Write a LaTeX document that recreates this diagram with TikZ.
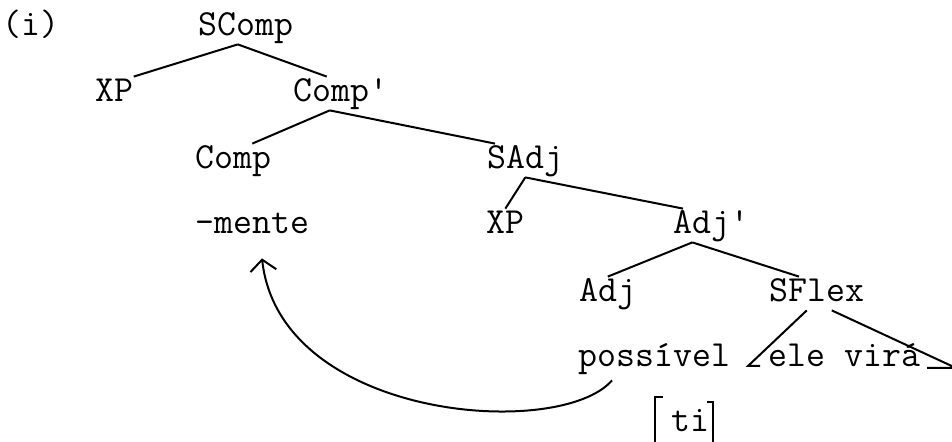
\documentclass[tikz,border=0pt]{standalone}
\usepackage{fontspec}
\usetikzlibrary{arrows.meta}
\usetikzlibrary{calc}

\tikzset{
    cat/.style={font=\ttfamily\fontsize{18.4}{22}\selectfont, inner sep=0pt, anchor=base west,
                text height=12.5pt, text depth=4pt},
    branch/.style={line width=1pt},
    move/.style={line width=1pt, -{Straight Barb[length=5.5pt,width=13pt]}}
}

\begin{document}
\begin{tikzpicture}[x=0.5pt,y=-0.5pt]

                    \useasboundingbox (0,0) rectangle (952,442);

                    \node[cat] (ex)       at (2,36)    {(i)};
                    \node[cat] (SComp)    at (198,36)  {SComp};
                    \node[cat] (XPa)      at (95,102)  {XP};
                    \node[cat] (Compbar)  at (293,102) {Comp\textquotesingle};
                    \node[cat] (Comp)     at (195,169) {Comp};
                    \node[cat] (SAdj)     at (487,169) {SAdj};
                    \node[cat] (mente)    at (195,234) {-mente};
                    \node[cat] (XPb)      at (486,234) {XP};
                    \node[cat] (Adjbar)   at (673,234) {Adj\textquotesingle};
                    \node[cat] (Adj)      at (579,302) {Adj};
                    \node[cat] (SFlex)    at (769,302) {SFlex};
                    \node[cat] (possivel) at (578,367) {possível};
                    \node[cat] (elevira)  at (768,367) {ele virá};
                    \node[cat] (ti)       at (671,432) {ti};

                    \coordinate (tl) at (748,366);
                    \coordinate (tr) at (956,368);

                    \path[branch]
                    ([xshift=-4pt]SComp.south) edge (XPa.north east)
                    ([xshift=-4pt]SComp.south) edge ([xshift=-7pt]Compbar.north)
                    ([xshift=-5.5pt]Compbar.south) edge ([xshift=9.5pt]Comp.north)
                    ([xshift=-5.5pt]Compbar.south) edge ([xshift=4pt]SAdj.north west)
                    (SAdj.south) edge (XPb.north)
                    (SAdj.south) edge ([xshift=5pt]Adjbar.north west)
                    ([xshift=-9.5pt]Adjbar.south) edge (Adj.north)
                    ([xshift=-9.5pt]Adjbar.south) edge ([xshift=15pt]SFlex.north west);

                    \draw[branch] ([xshift=-5pt]SFlex.south) -- (tl) -- ++(12,0);
                    \draw[branch] ([xshift=7.5pt]SFlex.south) -- (tr) -- ++(-29,0);

                    \draw[branch] ($(ti.base west)+(-8,-35)$) -- ++(-8,0) -- ++(0,45);
                    \draw[branch] ($(ti.base west)+(36,-30)$) -- ++(6,0) -- ++(0,40);

                    \draw[move] ($(possivel.south west)+(34,5)$)
                        .. controls +(-52,60) and +(18,162) .. ($(mente.south west)+(67,16)$);

                \end{tikzpicture}
\end{document}
